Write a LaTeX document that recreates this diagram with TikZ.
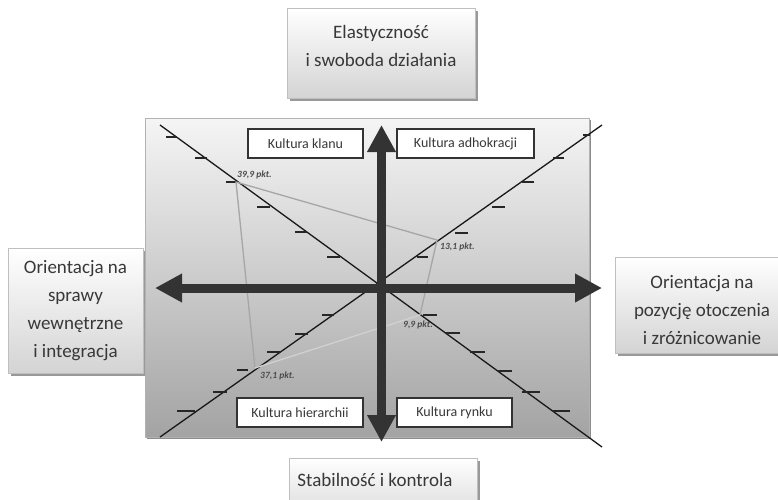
\documentclass[tikz,border=0pt]{standalone}
\usepackage{fontspec}
\setmainfont{Carlito}
\usetikzlibrary{arrows.meta,shadows}
\begin{document}
\begin{tikzpicture}[x=1pt,y=-1pt,
  outerbox/.style={draw=black!25, line width=0.8pt, top color=white, bottom color=black!17,
    inner sep=0pt, drop shadow={shadow xshift=2.5pt, shadow yshift=-2.5pt, fill=black!40, opacity=1}},
  bigtext/.style={font=\fontsize{19}{28}\selectfont, text=black!78, align=center, inner sep=0pt},
  panel/.style={draw=black!30, line width=0.8pt, top color=black!4, bottom color=black!36,
    inner sep=0pt, drop shadow={shadow xshift=2pt, shadow yshift=-2pt, fill=black!45, opacity=1}},
  quadbox/.style={draw=black!80, line width=1.2pt, fill=white, inner sep=0pt,
    minimum height=29pt, font=\fontsize{14}{16}\selectfont, text=black!78},
  ptlabel/.style={font=\fontsize{9.5}{11}\selectfont\bfseries\itshape, text=black!70, inner sep=0pt, anchor=west},
  diag/.style={draw=black!90, line width=1.3pt},
  tickmark/.style={draw=black!85, line width=1.5pt},
  poly/.style={draw=black!35, line width=1.3pt},
  bigarrow/.style={draw=black!80, fill=black!80, line width=9pt,
    {Triangle[length=27pt,width=27pt]}-{Triangle[length=27pt,width=27pt]}}
]
\useasboundingbox (0,0) rectangle (778,499);
\clip (0,0) rectangle (778,499);

% outer boxes
\node[outerbox, minimum width=188pt, minimum height=90pt] (topbox) at (381,53) {};
\node[bigtext] (toptext) at (381,46) {Elastyczność\\i swoboda działania};
\node[outerbox, minimum width=135pt, minimum height=125pt] (leftbox) at (75.5,310.5) {};
\node[bigtext] (lefttext) at (75.5,311) {Orientacja na\\sprawy\\wewnętrzne\\i integracja};
\node[outerbox, minimum width=174pt, minimum height=96pt] (rightbox) at (702,305) {};
\node[bigtext] (righttext) at (702,310) {Orientacja na\\pozycję otoczenia\\i zróżnicowanie};
\node[outerbox, minimum width=188pt, minimum height=70pt] (botbox) at (383,493) {};
\node[bigtext] (bottext) at (375,480) {Stabilność i kontrola};

% panel
\node[panel, minimum width=444pt, minimum height=319pt] (panel) at (367,277.5) {};

% diagonals
\coordinate (ul) at (160,125);
\coordinate (lr) at (602,447);
\coordinate (ll) at (160,437);
\coordinate (ur) at (602,125);
\draw[diag] (ul) -- (lr);
\draw[diag] (ll) -- (ur);

% ticks
\foreach \a/\b/\y in {166/177/137, 195/207/158, 226/238/182, 257/270/207, 295/307/232, 327/340/257,
  417/428/257, 455/468/233, 492/505/207, 522/534/182, 553/564/158, 583/590/135,
  322/334/315, 295/308/334, 267/280/352, 237/248/370, 213/227/392, 177/195/411,
  423/437/315, 445/460/333, 470/485/352, 498/512/371, 522/540/392, 553/570/411}
  \draw[tickmark] (\a,\y) -- (\b,\y);

% result polygon
\coordinate (p1) at (236,182);
\coordinate (p2) at (437,240);
\coordinate (p3) at (420,315);
\coordinate (p4) at (255,368);
\draw[poly] (p4) -- (p1) -- (p2) -- (p3);
\draw[poly, draw=black!18] (p3) -- (p4);

% axes
\coordinate (wtip) at (155,288);
\coordinate (etip) at (602,288);
\coordinate (ntip) at (381.5,125);
\coordinate (stip) at (381.5,442);
\draw[bigarrow] (wtip) -- (etip);
\draw[bigarrow] (ntip) -- (stip);

% quadrant labels
\node[quadbox, minimum width=115pt] (klan) at (305.5,143.5) {Kultura klanu};
\node[quadbox, minimum width=137pt] (adhok) at (465.5,143.5) {Kultura adhokracji};
\node[quadbox, minimum width=126pt] (hier) at (300,412.5) {Kultura hierarchii};
\node[quadbox, minimum width=115pt] (rynek) at (454.5,412.5) {Kultura rynku};

% point labels
\node[ptlabel] (l1) at (237,175) {39,9 pkt.};
\node[ptlabel] (l2) at (440,247) {13,1 pkt.};
\node[ptlabel] (l4) at (260,376) {37,1 pkt.};
\node[ptlabel] (l3) at (403,325) {9,9 pkt.};
\end{tikzpicture}
\end{document}
